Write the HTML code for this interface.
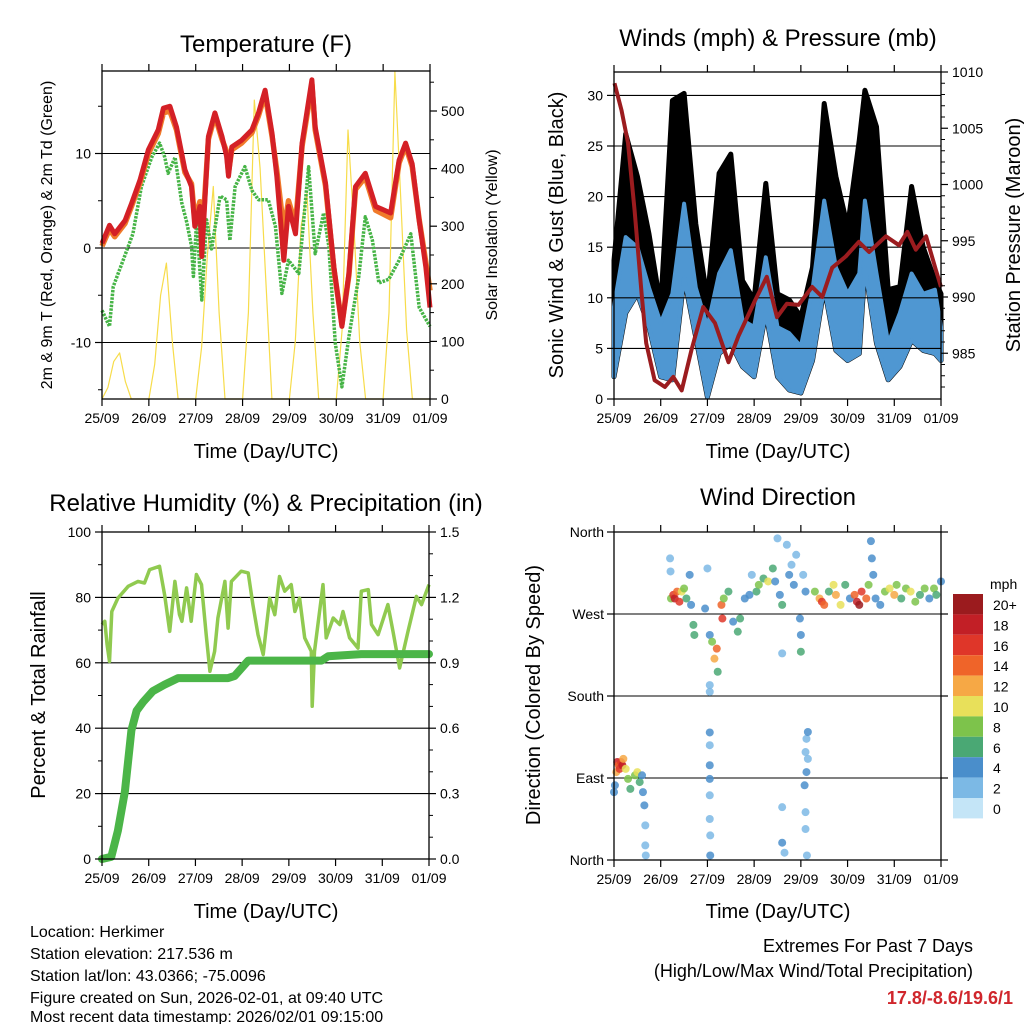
<!DOCTYPE html>
<html><head><meta charset="utf-8"><style>
html,body{margin:0;padding:0;background:#fff;}
svg{display:block;font-family:"Liberation Sans",Arial,sans-serif;}
</style></head><body>
<svg id="fig" width="1024" height="1024" viewBox="0 0 1024 1024" xmlns="http://www.w3.org/2000/svg">
<rect width="1024" height="1024" fill="#fff"/>
<text x="266" y="52" font-size="24" text-anchor="middle">Temperature (F)</text>
<text x="778" y="46" font-size="24" text-anchor="middle">Winds (mph) &amp; Pressure (mb)</text>
<text x="266" y="511" font-size="24" text-anchor="middle">Relative Humidity (%) &amp; Precipitation (in)</text>
<text x="778" y="505" font-size="24" text-anchor="middle">Wind Direction</text>
<text x="266" y="458" font-size="20" text-anchor="middle">Time (Day/UTC)</text>
<text x="778" y="458" font-size="20" text-anchor="middle">Time (Day/UTC)</text>
<text x="266" y="918" font-size="20" text-anchor="middle">Time (Day/UTC)</text>
<text x="778" y="918" font-size="20" text-anchor="middle">Time (Day/UTC)</text>
<text transform="translate(52,235) rotate(-90)" font-size="16" text-anchor="middle">2m &amp; 9m T (Red, Orange) &amp; 2m Td (Green)</text>
<text transform="translate(497,235) rotate(-90)" font-size="16" text-anchor="middle">Solar Insolation (Yellow)</text>
<text transform="translate(563,235) rotate(-90)" font-size="20" text-anchor="middle">Sonic Wind &amp; Gust (Blue, Black)</text>
<text transform="translate(1020,235) rotate(-90)" font-size="20" text-anchor="middle">Station Pressure (Maroon)</text>
<text transform="translate(45,695) rotate(-90)" font-size="20" text-anchor="middle">Percent &amp; Total Rainfall</text>
<text transform="translate(540,695) rotate(-90)" font-size="20" text-anchor="middle">Direction (Colored By Speed)</text>
<g font-size="16">
<text x="30" y="937">Location: Herkimer</text>
<text x="30" y="959">Station elevation: 217.536 m</text>
<text x="30" y="981">Station lat/lon: 43.0366; -75.0096</text>
<text x="30" y="1003">Figure created on Sun, 2026-02-01, at 09:40 UTC</text>
<text x="30" y="1024" dy="-2">Most recent data timestamp: 2026/02/01 09:15:00</text>
</g>
<text x="973" y="952" font-size="18" text-anchor="end">Extremes For Past 7 Days</text>
<text x="973" y="977" font-size="18" text-anchor="end">(High/Low/Max Wind/Total Precipitation)</text>
<text x="1013" y="1004" font-size="18" font-weight="bold" fill="#d0262c" text-anchor="end">17.8/-8.6/19.6/1</text>
</svg>
<script>
// ---------- data ----------
const dayLabels = ["25/09","26/09","27/09","28/09","29/09","30/09","31/09","01/09"];
const tempT = [0,0.16,0.27,0.49,0.63,0.81,0.99,1.20,1.31,1.45,1.59,1.77,1.91,1.98,2.09,2.13,2.27,2.41,2.56,2.66,2.70,2.77,2.98,3.20,3.34,3.48,3.63,3.73,3.88,3.98,4.13,4.27,4.48,4.55,4.77,4.95,5.12,5.27,5.41,5.62,5.84,6.16,6.34,6.48,6.62,6.77,6.91,7.0];
const temp2m = [0.5,2.4,1.5,2.9,4.7,7.2,10.4,12.5,14.8,15.0,12.8,8.3,6.5,2.3,4.4,-0.9,11.8,14.3,11.8,9.7,7.6,10.7,11.4,12.5,14.3,16.7,12.1,7.6,-1.3,4.4,1.5,11.1,17.8,12.8,6.9,-2.0,-8.3,-2.7,6.5,7.9,4.4,3.7,9.3,11.1,8.9,2.9,-2.0,-6.3];
const temp9m = [0.2,2.0,1.2,2.6,4.4,6.9,10.0,12.1,14.3,14.5,12.5,8.0,6.8,3.0,4.9,0.5,11.5,14.0,11.5,10.2,8.0,10.4,11.1,12.2,14.0,16.3,11.8,8.2,1.8,5.0,2.5,10.8,17.3,12.5,6.6,-2.2,-8.1,-2.9,6.2,7.5,4.0,3.2,9.0,10.8,8.6,3.0,-1.5,-4.5];
const dewT = [0,0.16,0.24,0.45,0.66,0.84,1.06,1.23,1.34,1.41,1.56,1.70,1.81,1.91,1.95,2.02,2.13,2.23,2.34,2.52,2.66,2.73,2.84,3.05,3.20,3.34,3.55,3.70,3.84,3.98,4.20,4.41,4.55,4.73,4.84,4.98,5.12,5.27,5.48,5.62,5.77,5.91,6.12,6.34,6.59,6.77,7.0];
const dewpoint = [-6.6,-8.3,-4.1,-1.3,1.5,6.5,9.6,11.1,9.6,7.9,9.6,4.8,2.7,0.2,-3.0,3.0,-5.5,3.0,-0.1,5.5,5.1,0.8,6.5,8.6,6.1,5.1,5.1,2.3,-4.8,-1.3,-2.7,8.6,-0.6,3.7,0.2,-10.1,-14.7,-9.4,-3.0,3.3,0.8,-3.7,-3.3,-1.3,1.5,-6.3,-8.3];
const solar = [0,20,65,80,30,0,0,0, 0,60,180,236,100,0,0,0, 0,90,250,369,150,0,0,0, 0,150,519,400,200,0,0,0, 0,100,300,357,150,0,0,0, 0,120,467,300,100,0,0,0, 0,150,568,350,120,0,0,0, 0];

const windT = [0,0.25,0.5,0.75,1,1.25,1.5,1.75,2,2.25,2.5,2.75,3,3.25,3.5,3.75,4,4.25,4.5,4.75,5,5.25,5.37,5.62,5.87,6.12,6.37,6.62,6.87,7];
const windHi = [9.1,16,15,11,7.5,10.4,19.3,11,7.1,12.4,14.7,7.8,7.1,14,7.1,6.5,5.2,10.8,19.6,13,10.4,12.4,19.6,12.4,5.5,8.5,12.4,10.4,10.8,7.1];
const windLo = [2.2,8.5,10.4,7.1,2.2,1.9,12,6.1,0.2,4.5,5.5,3.2,2.2,8.5,2.2,0.9,0.6,3.8,11,4.8,3.8,4.5,13,5.5,1.9,3.2,5.8,4.8,4.5,3.8];
const gustHi = [13.7,26.2,22,16.3,9.1,29.5,30.2,17.3,9.8,22.3,24.2,11.7,9.8,21.3,10.4,9.8,8.1,13,29.2,22,17,25.6,30.5,26.9,10.8,11.1,21,15,11.7,10.4];
const presT = [0.01,0.16,0.30,0.44,0.59,0.69,0.87,1.09,1.27,1.45,1.66,1.91,2.16,2.45,2.66,3.02,3.27,3.49,3.70,3.95,4.24,4.46,4.67,4.96,5.24,5.46,5.82,6.10,6.28,6.46,6.68,6.89,7.0];
const pressure = [1009.0,1006.6,1003.7,997.7,990.3,985.9,982.6,982.0,982.9,981.7,985.3,989.1,987.7,984.2,986.5,989.7,991.8,988.2,989.4,989.3,990.9,990.0,992.6,993.6,994.9,994.0,995.4,994.6,995.8,994.2,995.4,992.4,990.9];

const rhT = [0,0.06,0.11,0.16,0.21,0.34,0.56,0.77,0.91,1.02,1.23,1.34,1.45,1.56,1.66,1.71,1.81,1.91,2.02,2.13,2.23,2.31,2.41,2.48,2.63,2.70,2.77,2.98,3.13,3.23,3.34,3.45,3.59,3.70,3.80,3.91,4.05,4.13,4.23,4.34,4.48,4.50,4.55,4.73,4.80,4.95,5.09,5.16,5.30,5.48,5.55,5.70,5.77,5.91,6.12,6.23,6.37,6.55,6.73,6.84,7.0];
const rh = [71.7,72.7,65.5,60.4,75.7,79.8,83.4,84.9,84.4,88.5,89.5,80.8,69.6,84.9,74.7,72.7,82.9,72.7,87.0,83.9,68.6,57.4,63.5,73.7,84.9,70.6,84.9,88.0,87.5,77.8,68.6,62.5,79.8,74.7,86.4,81.9,83.9,75.7,79.8,67.6,63.5,46.7,63.5,83.9,67.6,73.7,71.7,75.7,67.6,64.5,81.9,82.4,71.7,68.6,77.8,69.6,58.4,69.6,80.3,77.8,83.9];
const precipT = [0,0.20,0.34,0.49,0.63,0.74,0.88,1.09,1.34,1.63,1.98,2.70,2.84,3.13,3.84,4.70,4.84,5.55,7.0];
const precip = [0,0.01,0.13,0.31,0.59,0.68,0.72,0.77,0.80,0.83,0.83,0.83,0.84,0.91,0.91,0.91,0.93,0.94,0.94];

const dirT = [0,0.02,0.05,0.07,0.1,0.12,0.15,0.18,0.2,0.25,0.3,0.35,0.45,0.5,0.55,0.6,0.62,0.65,0.67,0.67,0.68,
 1.2,1.21,1.22,1.27,1.3,1.35,1.4,1.45,1.5,1.55,1.62,1.65,1.7,1.72,
 1.95,2.0,2.05,2.1,2.15,2.2,2.22,2.05,2.05,2.3,2.32,2.35,2.45,2.55,2.65,2.7,2.8,2.9,2.95,3.05,3.1,3.2,3.3,3.4,3.45,3.5,3.55,3.6,3.6,3.7,3.75,3.8,3.85,3.9,3.98,4.0,4.0,4.05,4.1,
 4.3,4.4,4.45,4.5,4.6,4.7,4.75,4.85,4.95,5.05,5.15,5.2,5.25,5.3,5.4,5.45,5.5,5.52,5.55,5.6,5.7,5.8,5.9,6.0,6.05,6.15,6.25,6.35,6.45,6.55,6.65,6.75,6.85,6.9,7.0,
 2.05,2.05,2.05,2.05,2.05,2.05,2.06,2.06,3.6,3.6,3.65,4.1,4.12,4.15,4.15,4.12,4.08,4.1,4.1,4.13];
const dirDeg = [74.5,82,96.5,107.5,104,100,107.5,104,111,100,89,78,93,96.5,85.5,93,74.5,60,38,16,5,
 331,316.7,287,291,287,294.6,283.5,294.6,298,287,313,280,258,247,
 276,320,247,239.6,221,232,206.6,192,184.6,280,265,287,294.6,261.6,250.6,265,287,291,313,294.6,302,309,305.7,320,305.7,353,291,280,226.8,346,313,324,302,335,265,247,228.6,313,294.6,
 294.6,287,283.5,280,294.6,302,291,280,302,287,291,283.5,280,294.6,287,302,350,331,313,287,280,294.6,298,291,302,287,298,294.6,283.5,291,298,287,298,291,305.7,
 140,126,104,89,71,45,27,5,58,19,8,118.5,133,140.5,111,96.5,82,52.5,34,5];
const dirSpd = [4,4,12,18,14,16,16,18,12,10,8,6,8,10,6,4,4,4,2,2,2,
 2,2,8,16,18,14,16,10,8,6,4,4,6,7,
 4,2,4,8,12,14,6,2,2,14,16,8,6,4,6,6,4,4,2,6,8,6,10,6,4,2,4,6,2,2,4,2,4,2,4,4,6,2,4,
 8,12,16,14,6,10,12,10,6,4,14,18,20,16,14,8,4,4,4,4,4,8,10,12,8,6,8,10,8,6,8,4,8,6,4,
 4,2,4,4,2,2,2,4,2,4,2,2,2,4,2,4,4,2,2,2];
const cbLabels = ["20+","18","16","14","12","10","8","6","4","2","0"];
const cbColors = ["#9b1b1e","#c21f26","#df3629","#ef6429","#f6a845","#e8e05a","#7dc34b","#4aa874","#4a8ecb","#7cb9e5","#c4e5f7"];

// ---------- helpers ----------
const NS = "http://www.w3.org/2000/svg";
const svg = document.getElementById("fig");
function mk(tag, attrs, parent) {
  const e = document.createElementNS(NS, tag);
  for (const k in attrs) e.setAttribute(k, attrs[k]);
  (parent || svg).appendChild(e);
  return e;
}
function panel(x0, x1, y0, y1) {
  return { x0, x1, y0, y1, sx: d => x0 + (x1 - x0) * d / 7 };
}
function linePath(p, ts, vs, yf) {
  return ts.map((t, i) => (i ? "L" : "M") + p.sx(t).toFixed(1) + "," + yf(vs[i]).toFixed(1)).join(" ");
}
function frame(p, name) {
  const r = mk("rect", {x: p.x0, y: p.y0, width: p.x1 - p.x0, height: p.y1 - p.y0, fill: "none", stroke: "#000", "stroke-width": 1.3});
  
  
  for (let d = 0; d <= 7; d++) {
    const x = p.sx(d);
    const t1 = mk("line", {x1: x, x2: x, y1: p.y1, y2: p.y1 + 7, stroke: "#000", "stroke-width": 1.2});
    
    
    const t2 = mk("line", {x1: x, x2: x, y1: p.y0, y2: p.y0 - 7, stroke: "#000", "stroke-width": 1.2});
    
    
    const lb = mk("text", {x: x, y: p.y1 + 24, "font-size": 14, "text-anchor": "middle"});
    lb.textContent = dayLabels[d];
    
    
  }
}
function grid(p, vals, yf, name) {
  vals.forEach(v => {
    const g = mk("line", {x1: p.x0, x2: p.x1, y1: yf(v), y2: yf(v), stroke: "#000", "stroke-width": 1.1});
    
    
  });
}
function yTicks(p, side, vals, labels, yf, minors, name) {
  const xe = side === "L" ? p.x0 : p.x1, dir = side === "L" ? -1 : 1;
  vals.forEach((v, i) => {
    const t = mk("line", {x1: xe, x2: xe + dir * 7, y1: yf(v), y2: yf(v), stroke: "#000", "stroke-width": 1.2});
    
    
    const lb = mk("text", {x: xe + dir * 11, y: yf(v) + 5, "font-size": 14, "text-anchor": side === "L" ? "end" : "start"});
    lb.textContent = labels[i];
    
    
  });
  minors.forEach(v => {
    const t = mk("line", {x1: xe, x2: xe + dir * 4, y1: yf(v), y2: yf(v), stroke: "#000", "stroke-width": 1});
    
    
  });
}

// ---------- Panel 1: temperature ----------
const P1 = panel(102, 430, 71, 399);
const tY = v => 248 - 9.45 * v;
const sY = v => 399 - 0.576 * v;
grid(P1, [-10, 0, 10], tY, "temp");
const solarT = solar.map((v, i) => i * 0.125);
const sol = mk("path", {d: linePath(P1, solarT, solar, sY), fill: "none", stroke: "#f7dc4a", "stroke-width": 1.2, "stroke-linejoin": "round"});


const dew = mk("path", {d: linePath(P1, dewT, dewpoint, tY), fill: "none", stroke: "#46b446", "stroke-width": 3.5, "stroke-dasharray": "2.5 1.2", "stroke-linejoin": "round"});


const t9 = mk("path", {d: linePath(P1, tempT, temp9m, tY), fill: "none", stroke: "#f07a2a", "stroke-width": 5.5, "stroke-linejoin": "round"});


const t2 = mk("path", {d: linePath(P1, tempT, temp2m, tY), fill: "none", stroke: "#d42026", "stroke-width": 5, "stroke-linejoin": "round"});


frame(P1, "temp");
yTicks(P1, "L", [-10, 0, 10], ["-10", "0", "10"], tY, [-15, -5, 5, 15], "temp-y");
yTicks(P1, "R", [0, 100, 200, 300, 400, 500], ["0", "100", "200", "300", "400", "500"], sY, [50, 150, 250, 350, 450, 550], "solar-y");

// ---------- Panel 2: winds ----------
const P2 = panel(614, 941, 72, 399);
const wY = v => 399 - 10.12 * v;
const pY = v => 72 + (1010 - v) * 11.25;
function bandPath(p, ts, hi, lo, yf) {
  let d = ts.map((t, i) => (i ? "L" : "M") + p.sx(t).toFixed(1) + "," + yf(hi[i]).toFixed(1)).join(" ");
  for (let i = ts.length - 1; i >= 0; i--) d += " L" + p.sx(ts[i]).toFixed(1) + "," + yf(lo[i]).toFixed(1);
  return d + " Z";
}
const gust = mk("path", {d: bandPath(P2, windT, gustHi, windLo, wY), fill: "#000", stroke: "#000", "stroke-width": 5, "stroke-linejoin": "round"});


const wind = mk("path", {d: bandPath(P2, windT, windHi, windLo, wY), fill: "#4f97d2", stroke: "#4f97d2", "stroke-width": 4, "stroke-linejoin": "round"});


grid(P2, [5, 10, 15, 20, 25, 30], wY, "wind");
const pres = mk("path", {d: linePath(P2, presT, pressure, pY), fill: "none", stroke: "#9b1c1f", "stroke-width": 4, "stroke-linejoin": "round"});


frame(P2, "wind");
yTicks(P2, "L", [0, 5, 10, 15, 20, 25, 30], ["0", "5", "10", "15", "20", "25", "30"], wY, [], "wind-y");
const pMin = [];
for (let v = 982; v <= 1010; v++) if (v % 5) pMin.push(v);
yTicks(P2, "R", [985, 990, 995, 1000, 1005, 1010], ["985", "990", "995", "1000", "1005", "1010"], pY, pMin, "pressure-y");

// ---------- Panel 3: RH & precip ----------
const P3 = panel(102, 429, 532, 859);
const rY = v => 859 - 3.27 * v;
const prY = v => 859 - 218 * v;
grid(P3, [20, 40, 60, 80], rY, "rh");
const rhl = mk("path", {d: linePath(P3, rhT, rh, rY), fill: "none", stroke: "#90ca50", "stroke-width": 3.5, "stroke-linejoin": "round"});


const prl = mk("path", {d: linePath(P3, precipT, precip, prY), fill: "none", stroke: "#4bb548", "stroke-width": 8, "stroke-linejoin": "round", "stroke-linecap": "round"});


frame(P3, "rh");
yTicks(P3, "L", [0, 20, 40, 60, 80, 100], ["0", "20", "40", "60", "80", "100"], rY, [10, 30, 50, 70, 90], "rh-y");
yTicks(P3, "R", [0, 0.3, 0.6, 0.9, 1.2, 1.5], ["0.0", "0.3", "0.6", "0.9", "1.2", "1.5"], prY, [0.1, 0.2, 0.4, 0.5, 0.7, 0.8, 1.0, 1.1, 1.3, 1.4], "precip-y");

// ---------- Panel 4: wind direction ----------
const P4 = panel(614, 941, 532, 860);
const dY = v => 860 - v / 360 * 328;
grid(P4, [90, 180, 270], dY, "dir");
function spdColor(s) {
  const idx = Math.min(10, Math.max(0, Math.floor(s / 2)));
  return cbColors[10 - idx];
}
dirT.forEach((t, i) => {
  const c = mk("circle", {cx: P4.sx(t), cy: dY(dirDeg[i]), r: 4, fill: spdColor(dirSpd[i]), "fill-opacity": 0.85});
  
  
});
frame(P4, "dir");
const dirLabs = ["North", "East", "South", "West", "North"];
[0, 90, 180, 270, 360].forEach((v, i) => {
  const t = mk("line", {x1: P4.x0, x2: P4.x0 - 7, y1: dY(v), y2: dY(v), stroke: "#000", "stroke-width": 1.2});
  
  
  const t2 = mk("line", {x1: P4.x1, x2: P4.x1 + 7, y1: dY(v), y2: dY(v), stroke: "#000", "stroke-width": 1.2});
  
  
  const lb = mk("text", {x: P4.x0 - 10, y: dY(v) + 5, "font-size": 14, "text-anchor": "end"});
  lb.textContent = dirLabs[i];
  
  
});
// colorbar
const cbt = mk("text", {x: 990, y: 589, "font-size": 14});
cbt.textContent = "mph";


cbLabels.forEach((l, i) => {
  const r = mk("rect", {x: 953, y: 594 + i * 20.4, width: 30, height: 20.4, fill: cbColors[i]});
  
  
  const tx = mk("text", {x: 993, y: 594 + i * 20.4 + 16, "font-size": 14});
  tx.textContent = l;
  
  
});
</script>
</body></html>
